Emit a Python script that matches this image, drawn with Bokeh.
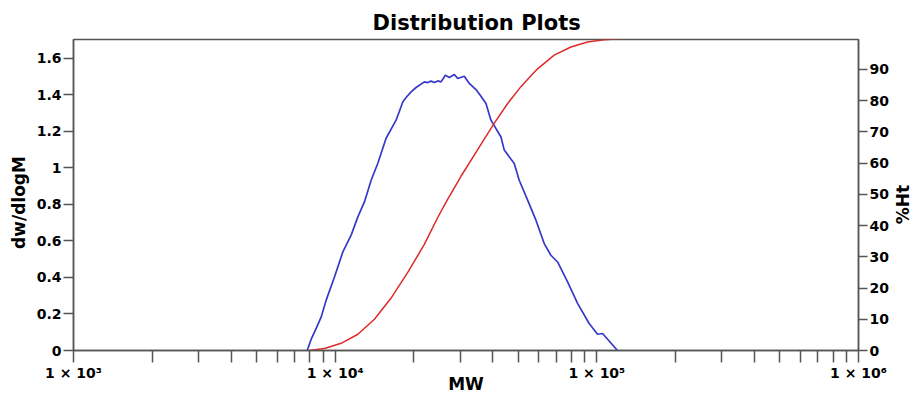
import math
from bokeh.plotting import figure
from bokeh.models import Range1d, LinearAxis, FixedTicker, Label
from bokeh.embed import file_html
from bokeh.resources import INLINE

# ---- data ----
mw_blue = [7818, 8098, 8463, 8844, 9240, 9938, 10700, 11510, 12210, 12937, 13723, 14555,
           15655, 17094, 18132, 18664, 19504, 20381, 21918, 22584, 23250, 23933, 24660, 25388,
           26363, 27308, 28531, 29398, 31152, 32551, 34527, 36079, 37697, 39391, 43015, 44281,
           48340, 50510, 54389, 58511, 62940, 66751, 70795, 77309, 84410, 93459, 100620, 105150,
           119950]
dw_dlogm = [0, 0.062, 0.121, 0.184, 0.276, 0.403, 0.540, 0.632, 0.732, 0.814, 0.933, 1.026,
            1.163, 1.262, 1.362, 1.386, 1.417, 1.441, 1.472, 1.468, 1.476, 1.468, 1.477, 1.472,
            1.508, 1.496, 1.512, 1.490, 1.503, 1.463, 1.430, 1.393, 1.353, 1.262, 1.170, 1.098,
            1.025, 0.933, 0.824, 0.714, 0.586, 0.522, 0.485, 0.376, 0.258, 0.148, 0.089, 0.093,
            0]

mw_red = [7959, 9103, 10541, 12210, 14125, 16357, 18943, 21918, 24660, 26761, 30261, 36079,
          40571, 45625, 51274, 55994, 59387, 68707, 79587, 92150, 106640, 123500]
pct_ht = [0, 0.64, 2.3, 5.2, 10.0, 16.8, 25.0, 34.0, 42.6, 48.1, 55.8, 66.0,
          72.8, 79.1, 84.5, 88.0, 90.2, 94.6, 97.2, 98.8, 99.5, 99.8]

x_ticks = [1000, 10000, 100000, 1000000]
x_labels = ["1 \u00d7 10\u00b3", "1 \u00d7 10\u2074", "1 \u00d7 10\u2075", "1 \u00d7 10\u2076"]
x_minor = [m * d for d in (1000, 10000, 100000) for m in range(2, 10)]

yl_ticks = [0, 0.2, 0.4, 0.6, 0.8, 1, 1.2, 1.4, 1.6]
yl_labels = ["0", "0.2", "0.4", "0.6", "0.8", "1", "1.2", "1.4", "1.6"]
yr_ticks = [0, 10, 20, 30, 40, 50, 60, 70, 80, 90]

title_text = "Distribution Plots"
x_title = "MW"
yl_title = "dw/dlogM"
yr_title = "%Ht"

FONT = "DejaVu Sans"
AXIS_COLOR = "#555555"
BLUE = "#3838c8"
RED = "#dc2b2b"

p = figure(width=913, height=396, x_axis_type="log",
           x_range=Range1d(1e3, 1e6), y_range=Range1d(0, 1.704),
           output_backend="svg", toolbar_location=None,
           min_border_left=73, min_border_right=55, min_border_top=39, min_border_bottom=46,
           background_fill_color="white", border_fill_color="white")

p.title.text = title_text
p.title.align = "left"
p.title.offset = 299
p.title.text_font = FONT
p.title.text_font_size = "21px"
p.title.text_font_style = "bold"
p.title.text_color = "black"

p.grid.visible = False
p.outline_line_color = AXIS_COLOR
p.outline_line_width = 1.5

p.extra_y_ranges = {"pct": Range1d(0, 99.6)}
right_axis = LinearAxis(y_range_name="pct", ticker=FixedTicker(ticks=yr_ticks))
p.add_layout(right_axis, "right")

def style_axis(ax, tick_out):
    ax.axis_line_color = AXIS_COLOR
    ax.axis_line_width = 1.5
    ax.major_tick_line_color = AXIS_COLOR
    ax.major_tick_line_width = 1.5
    ax.minor_tick_line_color = AXIS_COLOR
    ax.minor_tick_line_width = 1.5
    ax.major_tick_in = 0
    ax.minor_tick_in = 0
    ax.major_tick_out = tick_out
    ax.minor_tick_out = tick_out
    ax.major_label_text_font = FONT
    ax.major_label_text_font_size = "14px"
    ax.major_label_text_font_style = "bold"
    ax.major_label_text_color = "black"
    ax.major_label_standoff = 2
    ax.axis_label_text_font = FONT
    ax.axis_label_text_font_size = "17px"
    ax.axis_label_text_font_style = "bold"
    ax.axis_label_text_color = "black"

xax = p.xaxis[0]
xax.ticker = FixedTicker(ticks=x_ticks, minor_ticks=x_minor)
xax.major_label_overrides = dict(zip(x_ticks, x_labels))
style_axis(xax, 12)
xax.axis_label = x_title
xax.axis_label_standoff = -10

yax = p.yaxis[0]
yax.ticker = FixedTicker(ticks=yl_ticks)
yax.major_label_overrides = dict(zip(yl_ticks, yl_labels))
style_axis(yax, 10)

style_axis(right_axis, 9)

def side_label(text, x, y, angle, side):
    p.add_layout(Label(x=x, y=y, x_units="screen", y_units="screen", text=text,
                       angle=angle, text_align="center", text_baseline="middle",
                       text_font=FONT, text_font_size="17px", text_font_style="bold",
                       text_color="black"), side)

side_label(yr_title, 11, 146, math.pi / 2, "right")
side_label(yl_title, 5, 148, math.pi / 2, "left")

p.line(mw_blue, dw_dlogm, line_color=BLUE, line_width=1.7)
p.line(mw_red, pct_ht, y_range_name="pct", line_color=RED, line_width=1.5)

open("out.html", "w").write(file_html(p, INLINE))
